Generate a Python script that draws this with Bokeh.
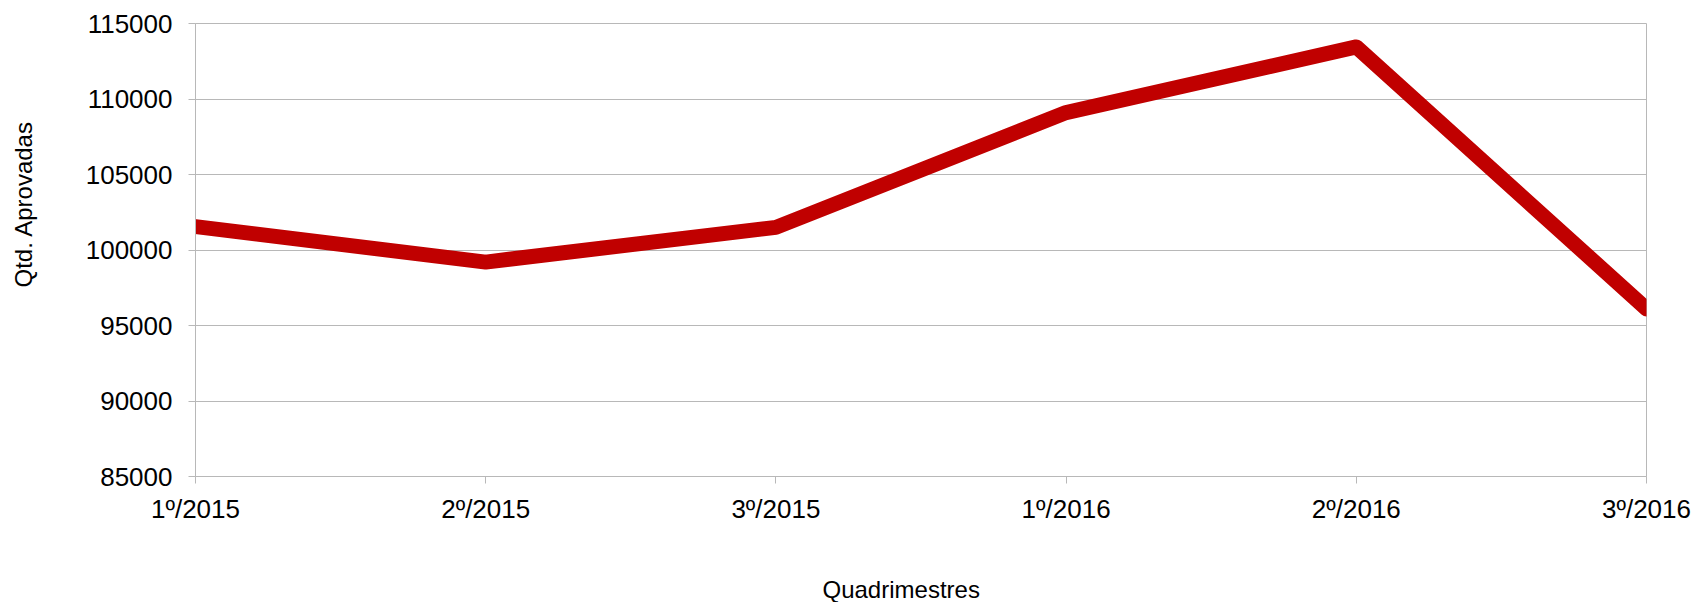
from bokeh.plotting import figure
from bokeh.models import Range1d, FixedTicker, Title
from bokeh.embed import file_html
from bokeh.resources import INLINE

categories = ["1º/2015", "2º/2015", "3º/2015", "1º/2016", "2º/2016", "3º/2016"]
values = [101550, 99200, 101500, 109100, 113450, 96100]
y_ticks = [85000, 90000, 95000, 100000, 105000, 110000, 115000]
x_title = "Quadrimestres"
y_title = "Qtd. Aprovadas"

FONT = "Liberation Sans"
GRID = "#b8b8b8"

xs = list(range(len(categories)))

p = figure(width=1694, height=602, output_backend="svg", toolbar_location=None,
           x_range=Range1d(0, len(categories) - 1), y_range=Range1d(y_ticks[0], y_ticks[-1]),
           min_border_left=195, min_border_right=48, min_border_top=23, min_border_bottom=126)

p.background_fill_color = "white"
p.border_fill_color = "white"
p.outline_line_color = GRID
p.outline_line_width = 1

p.line(xs, values, line_color="#c00000", line_width=15, line_join="round", line_cap="round")

# x axis
p.xaxis.ticker = FixedTicker(ticks=xs)
p.xaxis.major_label_overrides = {i: c for i, c in enumerate(categories)}
p.xaxis.major_label_text_font = FONT
p.xaxis.major_label_text_font_size = "26px"
p.xaxis.major_label_text_color = "black"
p.xaxis.major_label_standoff = 10
p.xaxis.major_tick_out = 7
p.xaxis.major_tick_in = 0
p.xaxis.minor_tick_out = 0
p.xaxis.minor_tick_in = 0
p.xaxis.axis_line_color = GRID
p.xaxis.major_tick_line_color = GRID

# y axis
p.yaxis.ticker = FixedTicker(ticks=y_ticks)
p.yaxis.major_label_overrides = {t: str(t) for t in y_ticks}
p.yaxis.major_label_text_font = FONT
p.yaxis.major_label_text_font_size = "26px"
p.yaxis.major_label_text_color = "black"
p.yaxis.major_label_standoff = 16
p.yaxis.major_tick_out = 7
p.yaxis.major_tick_in = 0
p.yaxis.minor_tick_out = 0
p.yaxis.minor_tick_in = 0
p.yaxis.axis_line_color = GRID
p.yaxis.major_tick_line_color = GRID

p.xgrid.grid_line_color = None
p.ygrid.grid_line_color = GRID
p.ygrid.grid_line_width = 1

# axis titles (a blank line is used as spacing between the axis and its title)
p.add_layout(Title(text="\n" + x_title, text_font=FONT, text_font_size="24px", text_font_style="normal",
                   text_color="black", align="left", offset=627, standoff=0,
                   vertical_align="bottom", text_line_height=1.75), "below")
p.add_layout(Title(text=y_title + "\n", text_font=FONT, text_font_size="24px", text_font_style="normal",
                   text_color="black", align="left", offset=189, standoff=0,
                   vertical_align="bottom", text_line_height=1.67), "left")

open("out.html", "w").write(file_html(p, INLINE))
